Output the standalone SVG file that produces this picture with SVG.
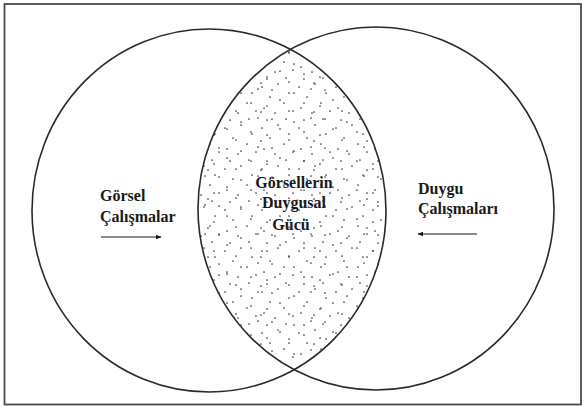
<svg xmlns="http://www.w3.org/2000/svg" width="585" height="407" viewBox="0 0 585 407">
<style>
.circ{fill:none;stroke:#2a2a2a;stroke-width:1.6}
text{font-family:'Liberation Serif','Times New Roman','DejaVu Serif',serif;font-weight:bold;font-size:16px;fill:#1a1a1a}
.arr{stroke:#1a1a1a;stroke-width:1.1;fill:none}
.d circle{fill:#3a3a3a}
</style>
<defs>
<pattern id="dotsA" width="37" height="41" patternUnits="userSpaceOnUse">
<g class="d">
<circle cx="3" cy="5" r="0.85"/><circle cx="19" cy="2" r="0.85"/><circle cx="30" cy="11" r="0.85"/>
<circle cx="11" cy="15" r="0.85"/><circle cx="25" cy="21" r="0.85"/><circle cx="5" cy="26" r="0.85"/>
<circle cx="34" cy="29" r="0.85"/><circle cx="16" cy="31" r="0.85"/><circle cx="27" cy="37" r="0.85"/><circle cx="8" cy="38" r="0.85"/>
</g>
</pattern>
<pattern id="dotsB" width="53" height="29" patternUnits="userSpaceOnUse">
<g class="d">
<circle cx="7" cy="3" r="0.85"/><circle cx="29" cy="6" r="0.85"/><circle cx="46" cy="2" r="0.85"/>
<circle cx="15" cy="13" r="0.85"/><circle cx="39" cy="16" r="0.85"/><circle cx="2" cy="19" r="0.85"/>
<circle cx="24" cy="24" r="0.85"/><circle cx="49" cy="25" r="0.85"/>
</g>
</pattern>
<clipPath id="leftClip"><ellipse cx="209" cy="210.5" rx="177" ry="181.5"/></clipPath>
<marker id="ah" viewBox="0 0 10 10" refX="9" refY="5" markerWidth="6" markerHeight="6" orient="auto" markerUnits="userSpaceOnUse">
<path d="M0,1 L10,5 L0,9 Z" fill="#1a1a1a"/>
</marker>
</defs>
<rect x="0" y="0" width="585" height="407" fill="#ffffff"/>
<rect x="4.5" y="4" width="576.5" height="400.5" fill="none" stroke="#4a4a4a" stroke-width="1.8"/>
<g id="lens" clip-path="url(#leftClip)">
<ellipse cx="376" cy="208.5" rx="178" ry="181.5" fill="url(#dotsA)"/>
<ellipse cx="376" cy="208.5" rx="178" ry="181.5" fill="url(#dotsB)"/>
</g>
<g id="gorsel-calismalar">
<ellipse class="circ" cx="209" cy="210.5" rx="177" ry="181.5"/>
<text x="100" y="201">Görsel</text>
<text x="100" y="222">Çalışmalar</text>
</g>
<g id="duygu-calismalari">
<ellipse class="circ" cx="376" cy="208.5" rx="178" ry="181.5"/>
<text x="418" y="194">Duygu</text>
<text x="418" y="214">Çalışmaları</text>
</g>
<g id="gorsellerin-duygusal-gucu">
<text x="294" y="188" text-anchor="middle">Görsellerin</text>
<text x="294" y="208" text-anchor="middle">Duygusal</text>
<text x="291" y="230" text-anchor="middle">Gücü</text>
</g>
<g id="connectors">
<line class="arr" x1="101" y1="237" x2="161" y2="237" marker-end="url(#ah)"/>
<line class="arr" x1="477" y1="234" x2="418" y2="234" marker-end="url(#ah)"/>
</g>
</svg>
